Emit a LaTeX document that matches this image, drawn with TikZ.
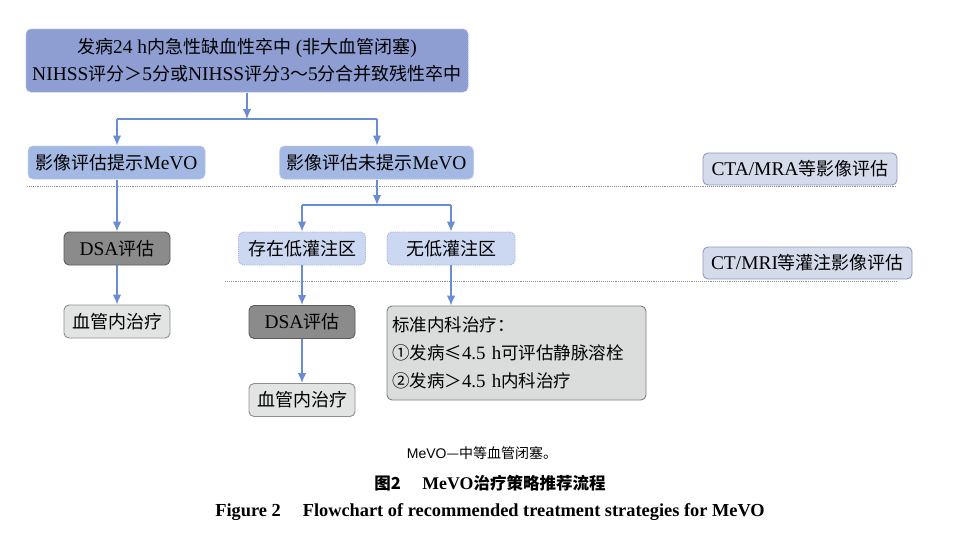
\documentclass[tikz,border=0pt]{standalone}
\usepackage{fontspec}
\setmainfont[Scale=1.08]{Liberation Serif}
\newfontfamily\cjk{Noto Sans CJK SC}
\newfontfamily\capsans{Liberation Sans}
\usetikzlibrary{arrows.meta}
\definecolor{mainfill}{HTML}{8E9ED3}
\definecolor{mainedge}{HTML}{A9B6E2}
\definecolor{lvtwo}{HTML}{A3B8E2}
\definecolor{lvtwoedge}{HTML}{B9C9EA}
\definecolor{lvthree}{HTML}{CCD8F1}
\definecolor{lvthreeedge}{HTML}{9EB0DE}
\definecolor{dsafill}{HTML}{8B8B8B}
\definecolor{dsaedge}{HTML}{5C5C5C}
\definecolor{lgfill}{HTML}{E2E3E3}
\definecolor{lgedge}{HTML}{8E8E8E}
\definecolor{stdfill}{HTML}{DBDCDC}
\definecolor{stdedge}{HTML}{7F7F7F}
\definecolor{tagfill}{HTML}{D4DBEB}
\definecolor{tagedge}{HTML}{8A9BC2}
\definecolor{arrcol}{HTML}{6A8CD0}
\definecolor{sepcol}{HTML}{8C8C8C}
\tikzset{
  base/.style={rounded corners=5pt, inner sep=0pt, align=center,
    font=\fontsize{18}{22}\selectfont},
  mainbox/.style={base, fill=mainfill, draw=mainedge, densely dotted, line width=1pt,
    minimum width=442pt, minimum height=63pt},
  lvtwobox/.style={base, fill=lvtwo, draw=lvtwoedge, densely dotted, line width=1pt,
    minimum height=33pt},
  lvthreebox/.style={base, fill=lvthree, draw=lvthreeedge, densely dotted, line width=0.9pt,
    minimum height=33pt},
  dsabox/.style={base, fill=dsafill, draw=dsaedge, line width=0.9pt,
    minimum width=106pt, minimum height=33pt},
  lgbox/.style={base, fill=lgfill, draw=lgedge, line width=0.9pt,
    minimum width=106pt, minimum height=33pt},
  stdbox/.style={base, fill=stdfill, draw=stdedge, line width=0.9pt, align=left,
    minimum width=259pt, minimum height=94pt, text width=249pt,
    font=\fontsize{17.5}{28}\selectfont},
  tagbox/.style={base, fill=tagfill, draw=tagedge, line width=0.9pt,
    minimum height=32pt},
  arr/.style={draw=arrcol, line width=1.3pt, -{Latex[length=10pt,width=8.5pt]}},
  plain/.style={draw=arrcol, line width=1.3pt},
  sep/.style={draw=sepcol, densely dotted, line width=0.9pt},
}
\begin{document}
\begin{tikzpicture}[x=1pt,y=-1pt]
\useasboundingbox[fill=white] (0,0) rectangle (960,538);
% separators
\coordinate (s1a) at (27,186);
\coordinate (s1b) at (897,186);
\coordinate (s2a) at (225,281);
\coordinate (s2b) at (897,281);
\draw[sep] (s1a) -- (s1b);
\draw[sep] (s2a) -- (s2b);
% nodes
\node[mainbox] (main) at (247,60.5) {{\cjk 发病}24 h{\cjk 内急性缺血性卒中} ({\cjk 非大血管闭塞})\\[5pt]
NIHSS{\cjk 评分＞}5{\cjk 分或}NIHSS{\cjk 评分}3{\cjk ～}5{\cjk 分合并致残性卒中}};
\node[lvtwobox, minimum width=177pt] (b1) at (116.5,162.5) {{\cjk 影像评估提示}MeVO};
\node[lvtwobox, minimum width=194pt] (b2) at (376.5,162.5) {{\cjk 影像评估未提示}MeVO};
\node[tagbox, minimum width=194pt] (cta) at (800,169) {CTA/MRA{\cjk 等影像评估}};
\node[dsabox] (dsa1) at (117,248.5) {DSA{\cjk 评估}};
\node[lgbox] (v1) at (117,321.5) {\cjk 血管内治疗};
\node[lvthreebox, minimum width=127pt] (p1) at (302,248.5) {\cjk 存在低灌注区};
\node[lvthreebox, minimum width=128pt] (p2) at (451,248.5) {\cjk 无低灌注区};
\node[tagbox, minimum width=209pt] (ct) at (807.5,263) {CT/MRI{\cjk 等灌注影像评估}};
\node[dsabox] (dsa2) at (302,322) {DSA{\cjk 评估}};
\node[lgbox] (v2) at (302,400) {\cjk 血管内治疗};
\node[stdbox] (std) at (516.5,353) {{\cjk 标准内科治疗：}\\
{\cjk ①发病≤}4.5 h{\cjk 可评估静脉溶栓}\\
{\cjk ②发病＞}4.5 h{\cjk 内科治疗}};
% junctions
\coordinate (j1) at (247,119);
\coordinate (j1l) at (117,119);
\coordinate (j1r) at (377,119);
\coordinate (j2) at (377,205);
\coordinate (j2l) at (302,205);
\coordinate (j2r) at (451,205);
% connectors
\draw[arr] (main.south -| j1) -- (j1);
\draw[plain] (j1l) -- (j1r);
\draw[arr] (j1l) -- (j1l |- b1.north);
\draw[arr] (j1r) -- (j1r |- b2.north);
\draw[arr] (b1.south -| j1l) -- (dsa1.north -| j1l);
\draw[arr] (dsa1) -- (v1);
\draw[arr] (b2.south -| j2) -- (j2);
\draw[plain] (j2l) -- (j2r);
\draw[arr] (j2l) -- (p1.north -| j2l);
\draw[arr] (j2r) -- (p2.north -| j2r);
\draw[arr] (p1) -- (dsa2);
\draw[arr] (dsa2) -- (v2);
\draw[arr] (p2.south -| j2r) -- (std.north -| j2r);
% caption
\node[font=\fontsize{14}{16}\selectfont] (cap1) at (482,453) {{\capsans MeVO}{\cjk —中等血管闭塞。}};
\node[font=\fontsize{16.5}{19}\selectfont\bfseries] (cap2) at (490,483) {{\cjk 图2}\hspace{1.2em}MeVO{\cjk 治疗策略推荐流程}};
\node[font=\fontsize{17}{21}\selectfont\bfseries] (cap3) at (490,512) {Figure 2\hspace{1.2em}Flowchart of recommended treatment strategies for MeVO};
\end{tikzpicture}
\end{document}
